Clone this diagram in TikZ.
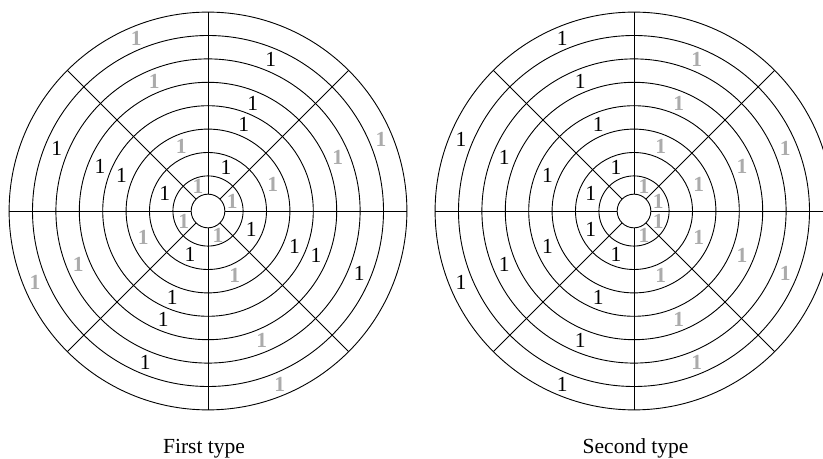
\documentclass[tikz,border=0pt]{standalone}
\usepackage{fontspec}
\setmainfont{Liberation Serif}
\usepackage{tikz}
\usetikzlibrary{calc}

\tikzset{
  ringline/.style={draw=black, line width=0.9pt},
  blacklabel/.style={inner sep=0pt, text=black},
  greylabel/.style={inner sep=0pt, text=black!33, font=\fontsize{21.5}{25}\selectfont\bfseries},
  captiontext/.style={anchor=base, inner sep=0pt}
}

\begin{document}
\begin{tikzpicture}[x=23.4pt, y=23.4pt, every node/.style={font=\fontsize{21.5}{25}\selectfont}]
    \useasboundingbox (0,0) rectangle (35.171,19.573);
    \clip (0,0) rectangle (35.171,19.573);

    \coordinate (first) at (8.889,10.556);
    \coordinate (second) at (27.094,10.556);

    % rings and spokes of both targets
    \foreach \c in {first, second} {
        \draw [ringline] (\c) circle (0.72);
        \foreach \r in {1.5,2.5,...,8.5}
            \draw [ringline] (\c) circle (\r);
        \foreach \a in {0,45,...,315}
            \draw [ringline] ($(\c)+(\a:0.72)$) -- ($(\c)+(\a:8.5)$);
    }

    % first type
    \foreach \s in {0,2,4,6}
        \foreach \k/\r in {1/1.12,3/3,6/6,8/8}
            \node [greylabel] (f-\s-\k) at ($(first)+({22.5+45*\s}:\r)$) {1};
    \foreach \s in {1,3,5,7}
        \foreach \k/\r in {2/2,4/4,5/5,7/7}
            \node [blacklabel] (f-\s-\k) at ($(first)+({22.5+45*\s}:\r)$) {1};

    % second type
    \foreach \s in {0,1,6,7}
        \foreach \k/\r in {1/1.12,3/3,5/5,7/7}
            \node [greylabel] (s-\s-\k) at ($(second)+({22.5+45*\s}:\r)$) {1};
    \foreach \s in {2,3,4,5}
        \foreach \k/\r in {2/2,4/4,6/6,8/8}
            \node [blacklabel] (s-\s-\k) at ($(second)+({22.5+45*\s}:\r)$) {1};

    \node [captiontext] (firstcap) at (8.72,0.21) {First type};
    \node [captiontext] (secondcap) at (27.16,0.21) {Second type};
\end{tikzpicture}
\end{document}
